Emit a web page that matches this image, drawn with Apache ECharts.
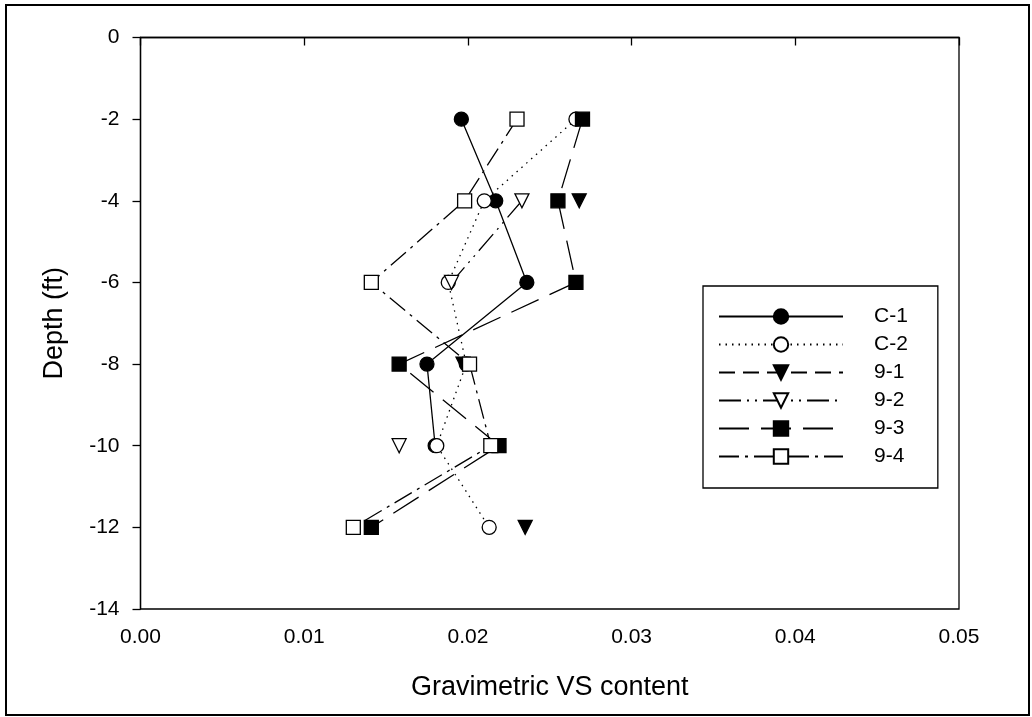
<!DOCTYPE html>
<html>
<head>
<meta charset="utf-8">
<script src="https://cdn.jsdelivr.net/npm/echarts@6/dist/echarts.min.js"></script>
<style>
  html, body {
    margin: 0;
    padding: 0;
    background: #fff;
  }
  #chart {
    width: 1032px;
    height: 717px;
  }
</style>
</head>
<body>
<div id="chart"></div>
<script>
  // depth rows (ft) and moisture readings per boring, null = no sample
  var depths = [-2, -4, -6, -8, -10, -12];
  var c1 = [0.0196, 0.0217, 0.0236, 0.0175, 0.0180, null];
  var c2 = [0.0266, 0.0210, 0.0188, 0.0199, 0.0181, 0.0213];
  var b91 = [null, 0.0268, null, 0.0197, null, 0.0235];
  var b92 = [null, 0.0233, 0.0190, null, 0.0158, null];
  var b93 = [0.0270, 0.0255, 0.0266, 0.0158, 0.0219, 0.0141];
  var b94 = [0.0230, 0.0198, 0.0141, 0.0201, 0.0214, 0.0130];
  var names = ['C-1', 'C-2', '9-1', '9-2', '9-3', '9-4'];

  function pairs(vals) {
      return vals.map(function (v, i) {
          return [v === null ? '-' : v, depths[i]];
      });
  }

  function mk(name, vals, symbol, rotate, filled, dash) {
      return {
          name: name,
          type: 'line',
          data: pairs(vals),
          symbol: symbol,
          symbolSize: 14,
          symbolRotate: rotate,
          showAllSymbol: true,
          connectNulls: false,
          animation: false,
          lineStyle: {
              color: '#000',
              width: 1.3,
              type: dash
          },
          itemStyle: {
              color: filled ? '#000' : '#fff',
              borderColor: '#000',
              borderWidth: 1.3
          }
      };
  }

  var chart = echarts.init(document.getElementById('chart'));
  chart.setOption({
      backgroundColor: '#fff',
      textStyle: { fontFamily: 'Liberation Sans', color: '#000' },
      graphic: [{
          type: 'rect',
          shape: { x: 6, y: 5, width: 1023, height: 710 },
          style: { fill: 'none', stroke: '#000', lineWidth: 2 }
      }],
      grid: {
          left: 140.5,
          right: 73,
          top: 37.5,
          bottom: 108,
          show: true,
          borderColor: '#000',
          borderWidth: 1.3
      },
      legend: {
          orient: 'vertical',
          left: 703,
          top: 286,
          data: names,
          itemWidth: 124,
          itemHeight: 18,
          itemGap: 7,
          padding: [20, 30, 21, 15],
          borderColor: '#000',
          borderWidth: 1.3,
          textStyle: {
              fontFamily: 'Liberation Sans',
              fontSize: 21,
              color: '#000',
              lineHeight: 18,
              padding: [0, 0, 0, 26]
          }
      },
      xAxis: {
          type: 'value',
          min: 0,
          max: 0.05,
          interval: 0.01,
          name: 'Gravimetric VS content',
          nameLocation: 'middle',
          nameGap: 65,
          nameTextStyle: { fontSize: 27, color: '#000' },
          axisLine: { lineStyle: { color: '#000', width: 1.3 } },
          axisTick: { inside: false, length: 8, lineStyle: { color: '#000', width: 1.3 } },
          axisLabel: {
              fontSize: 21,
              color: '#000',
              margin: 18,
              formatter: function (v) { return v.toFixed(2); }
          },
          splitLine: { show: false }
      },
      yAxis: {
          type: 'value',
          min: -14,
          max: 0,
          interval: 2,
          name: 'Depth (ft)',
          nameLocation: 'middle',
          nameGap: 72,
          nameTextStyle: { fontSize: 27, color: '#000' },
          axisLine: { lineStyle: { color: '#000', width: 1.3 } },
          axisTick: { inside: false, length: 8, lineStyle: { color: '#000', width: 1.3 } },
          axisLabel: { fontSize: 21, color: '#000', margin: 21 },
          splitLine: { show: false }
      },
      series: [
          mk('C-1', c1, 'circle', 0, true, 'solid'),
          mk('C-2', c2, 'circle', 0, false, [1.5, 5]),
          mk('9-1', b91, 'triangle', 180, true, [16, 8]),
          mk('9-2', b92, 'triangle', 180, false, [22, 6, 2, 6, 2, 6]),
          mk('9-3', b93, 'rect', 0, true, [30, 12]),
          mk('9-4', b94, 'rect', 0, false, [20, 6, 3, 6])
      ]
  });
</script>
</body>
</html>
